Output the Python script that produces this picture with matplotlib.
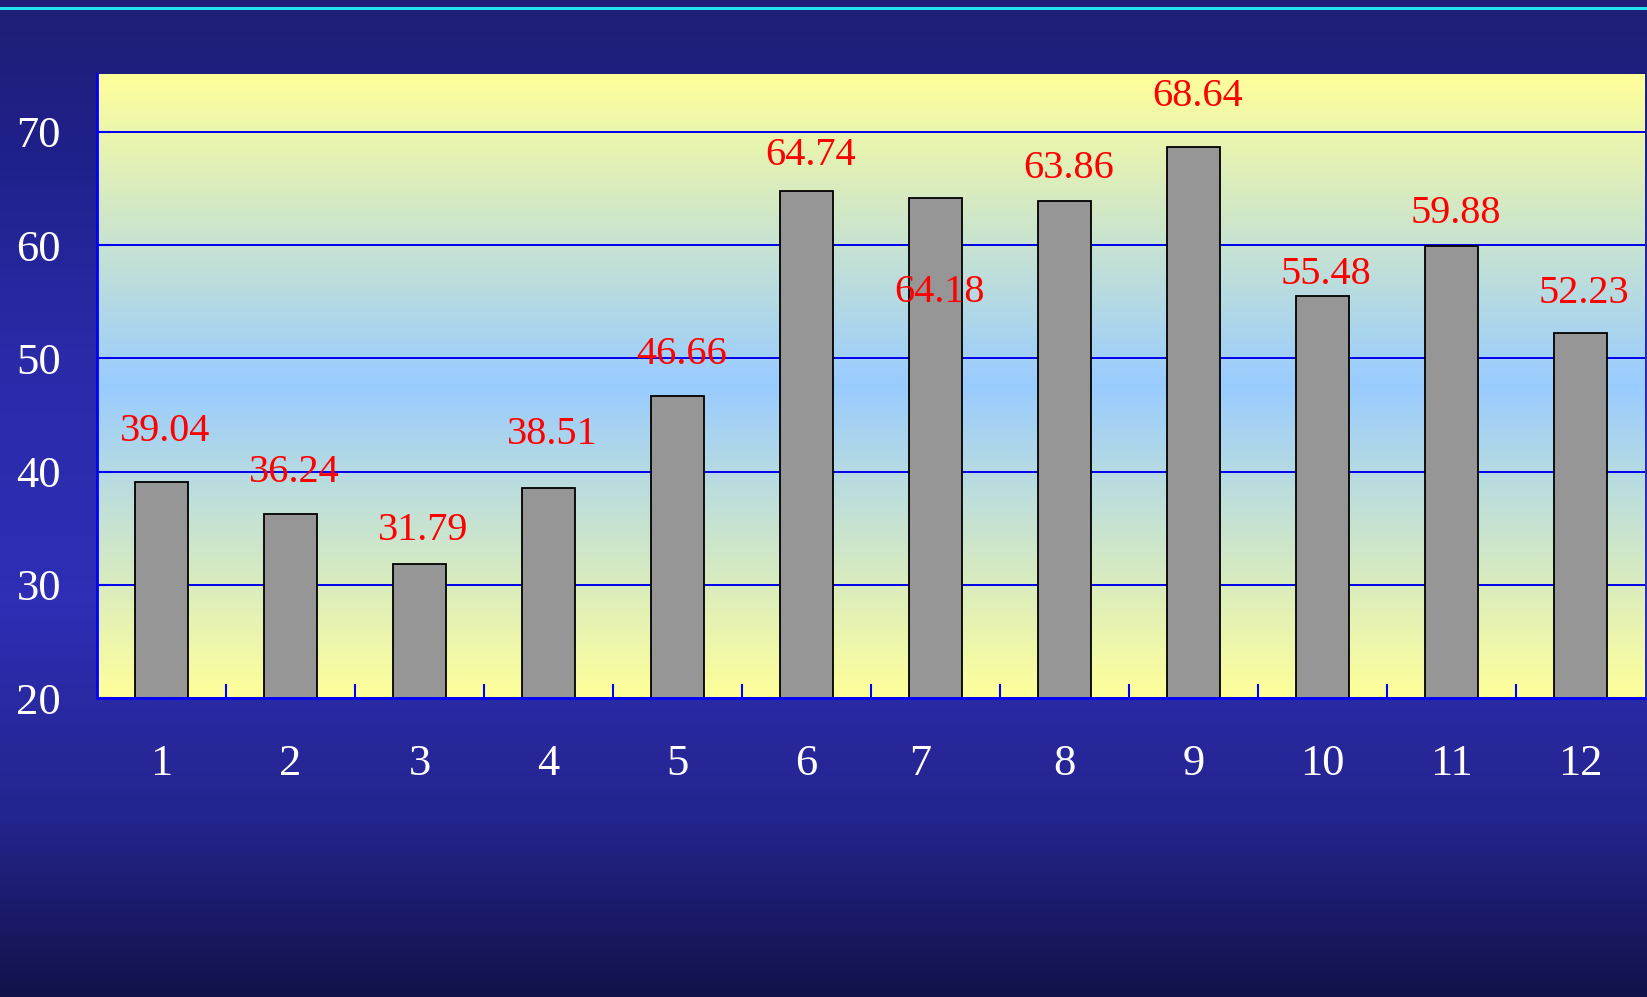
import numpy as np
from matplotlib import pyplot as plt
from matplotlib.colors import LinearSegmentedColormap
from matplotlib.ticker import FixedLocator
from matplotlib.transforms import ScaledTranslation

#%% # Data

months = ['1', '2', '3', '4', '5', '6', '7', '8', '9', '10', '11', '12']
values = [39.04, 36.24, 31.79, 38.51, 46.66, 64.74, 64.18, 63.86, 68.64, 55.48, 59.88, 52.23]
yticks = [20, 30, 40, 50, 60, 70]

# vertical shift of each value label from the bar top (data units)
label_shift = [4.5, 3.7, 3.0, 4.8, 3.7, 3.2, -8.4, 2.9, 4.5, 1.9, 2.9, 3.5]

plt.rcParams['font.family'] = ['Liberation Serif', 'DejaVu Serif']

#%% # Figure

fig = plt.figure(figsize=(16.47, 9.97), dpi=100)

# dark blue background gradient
bg = fig.add_axes([0, 0, 1, 1], zorder=-10)
bg_cmap = LinearSegmentedColormap.from_list(
    'bg', [(0.0, '#12124a'), (0.18, '#24248e'), (0.40, '#2e2eb6'),
           (0.65, '#2a2aa8'), (0.85, '#20208a'), (1.0, '#1e1e76')])
bg.imshow(np.linspace(0, 1, 256).reshape(-1, 1), aspect='auto', cmap=bg_cmap,
          origin='lower', extent=[0, 1, 0, 1])
bg.axhline(1 - 8 / 997, color='#22e0f0', lw=2.2)
bg.set_xlim(0, 1)
bg.set_ylim(0, 1)
bg.axis('off')

ax = fig.add_axes([97 / 1647, 1 - 698 / 997, 1548 / 1647, 624 / 997])

# yellow-blue-yellow plot area gradient
pa_cmap = LinearSegmentedColormap.from_list(
    'pa', [(0.0, '#ffff99'), (0.5, '#99ccff'), (1.0, '#ffff99')])
ax.imshow(np.linspace(0, 1, 256).reshape(-1, 1), aspect='auto', cmap=pa_cmap,
          origin='lower', extent=[0, 1, 0, 1], transform=ax.transAxes, zorder=0)

x = np.arange(len(months))
ax.bar(x, np.array(values) - 20, bottom=20, width=0.41, color='#969696',
       edgecolor='black', linewidth=1.3, zorder=3)

for xi, v, s in zip(x, values, label_shift):
    ax.text(xi + 0.03, v + s, f'{v:.2f}', color='red', fontsize=29,
            ha='center', va='center', zorder=4)

ax.set_xlim(-0.5, len(months) - 0.5)
ax.set_ylim(20, 75.1)
ax.set_yticks(yticks)
ax.set_yticklabels([str(t) for t in yticks], ha='left')
ax.set_xticks(x)
ax.set_xticklabels(months)
ax.xaxis.set_minor_locator(FixedLocator(np.arange(0.5, len(months) - 0.5, 1)))

ax.grid(axis='y', color='#0000ee', lw=1.4, zorder=1)
ax.set_axisbelow(True)

for side in ['top', 'right']:
    ax.spines[side].set_visible(False)
for side in ['left', 'bottom']:
    ax.spines[side].set_color('#0000ff')
    ax.spines[side].set_linewidth(2)
    ax.spines[side].set_zorder(5)

ax.tick_params(axis='y', direction='in', length=10, width=1.5, color='#0000ff',
               labelcolor='white', labelsize=32, pad=58)
ax.tick_params(axis='x', which='major', length=0, labelcolor='white',
               labelsize=32, pad=33)
ax.tick_params(axis='x', which='minor', direction='in', length=10, width=1.5,
               color='#0000ff')

# the "7" label sits a little left of its bar in the original
lbl = ax.get_xticklabels()[6]
lbl.set_transform(lbl.get_transform() + ScaledTranslation(-0.15, 0, fig.dpi_scale_trans))

plt.savefig('out.png', dpi=100)
